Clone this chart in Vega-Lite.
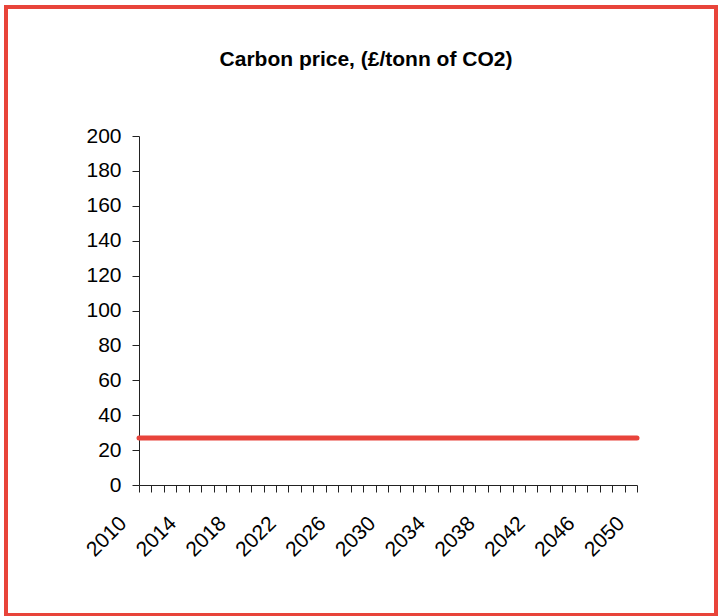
{
  "$schema": "https://vega.github.io/schema/vega-lite/v6.json",
  "width": 498,
  "height": 349,
  "autosize": {"type": "none"},
  "padding": {"left": 139, "top": 136, "right": 81, "bottom": 131},
  "background": "white",
  "title": {
    "text": "Carbon price, (£/tonn of CO2)",
    "font": "Liberation Sans",
    "fontSize": 21,
    "fontWeight": "bold",
    "color": "black",
    "anchor": "middle",
    "frame": "group",
    "dx": -22,
    "baseline": "alphabetic",
    "offset": -81
  },
  "config": {
    "view": {"stroke": null},
    "axis": {
      "labelFont": "Liberation Sans",
      "labelFontSize": 21,
      "labelColor": "black",
      "domainColor": "#222222",
      "tickColor": "#222222",
      "tickSize": 7,
      "grid": false,
      "title": null
    }
  },
  "data": {
    "values": [
      {"year": 2010, "price": 27}, {"year": 2011, "price": 27}, {"year": 2012, "price": 27},
      {"year": 2013, "price": 27}, {"year": 2014, "price": 27}, {"year": 2015, "price": 27},
      {"year": 2016, "price": 27}, {"year": 2017, "price": 27}, {"year": 2018, "price": 27},
      {"year": 2019, "price": 27}, {"year": 2020, "price": 27}, {"year": 2021, "price": 27},
      {"year": 2022, "price": 27}, {"year": 2023, "price": 27}, {"year": 2024, "price": 27},
      {"year": 2025, "price": 27}, {"year": 2026, "price": 27}, {"year": 2027, "price": 27},
      {"year": 2028, "price": 27}, {"year": 2029, "price": 27}, {"year": 2030, "price": 27},
      {"year": 2031, "price": 27}, {"year": 2032, "price": 27}, {"year": 2033, "price": 27},
      {"year": 2034, "price": 27}, {"year": 2035, "price": 27}, {"year": 2036, "price": 27},
      {"year": 2037, "price": 27}, {"year": 2038, "price": 27}, {"year": 2039, "price": 27},
      {"year": 2040, "price": 27}, {"year": 2041, "price": 27}, {"year": 2042, "price": 27},
      {"year": 2043, "price": 27}, {"year": 2044, "price": 27}, {"year": 2045, "price": 27},
      {"year": 2046, "price": 27}, {"year": 2047, "price": 27}, {"year": 2048, "price": 27},
      {"year": 2049, "price": 27}, {"year": 2050, "price": 27}
    ]
  },
  "layer": [
    {
      "mark": {"type": "line", "color": "#e8433b", "strokeWidth": 5, "strokeCap": "round"},
      "encoding": {
        "x": {
          "field": "year",
          "type": "quantitative",
          "scale": {"domain": [2010, 2050], "nice": false, "zero": false},
          "axis": {
            "values": [2010,2011,2012,2013,2014,2015,2016,2017,2018,2019,2020,2021,2022,2023,2024,2025,2026,2027,2028,2029,2030,2031,2032,2033,2034,2035,2036,2037,2038,2039,2040,2041,2042,2043,2044,2045,2046,2047,2048,2049,2050],
            "tickCount": 41,
            "labelExpr": "(datum.value - 2010) % 4 == 0 ? format(datum.value, 'd') : ''",
            "labelAngle": -45,
            "labelAlign": "right",
            "labelBaseline": "middle",
            "labelOffset": -16,
            "labelPadding": 28,
            "labelOverlap": false,
            "labelFlush": false,
            "labelBound": false
          }
        },
        "y": {
          "field": "price",
          "type": "quantitative",
          "scale": {"domain": [0, 200], "nice": false},
          "axis": {
            "values": [0,20,40,60,80,100,120,140,160,180,200],
            "tickCount": 11,
            "labelPadding": 11,
            "labelFlush": false,
            "labelOverlap": false
          }
        }
      }
    },
    {
      "mark": {"type": "rect", "fill": null, "stroke": "#e8443a", "strokeWidth": 3, "clip": false},
      "encoding": {
        "x": {
          "datum": 1999.3,
          "type": "quantitative",
          "axis": {
            "values": [2010,2011,2012,2013,2014,2015,2016,2017,2018,2019,2020,2021,2022,2023,2024,2025,2026,2027,2028,2029,2030,2031,2032,2033,2034,2035,2036,2037,2038,2039,2040,2041,2042,2043,2044,2045,2046,2047,2048,2049,2050],
            "tickCount": 41,
            "labelExpr": "(datum.value - 2010) % 4 == 0 ? format(datum.value, 'd') : ''",
            "labelAngle": -45,
            "labelAlign": "right",
            "labelBaseline": "middle",
            "labelOffset": -16,
            "labelPadding": 28,
            "labelOverlap": false,
            "labelFlush": false,
            "labelBound": false
          }
        },
        "x2": {"datum": 2056.35},
        "y": {
          "datum": 273.9,
          "type": "quantitative",
          "axis": {
            "values": [0,20,40,60,80,100,120,140,160,180,200],
            "tickCount": 11,
            "labelPadding": 11,
            "labelFlush": false,
            "labelOverlap": false
          }
        },
        "y2": {"datum": -74.2}
      }
    }
  ]
}
